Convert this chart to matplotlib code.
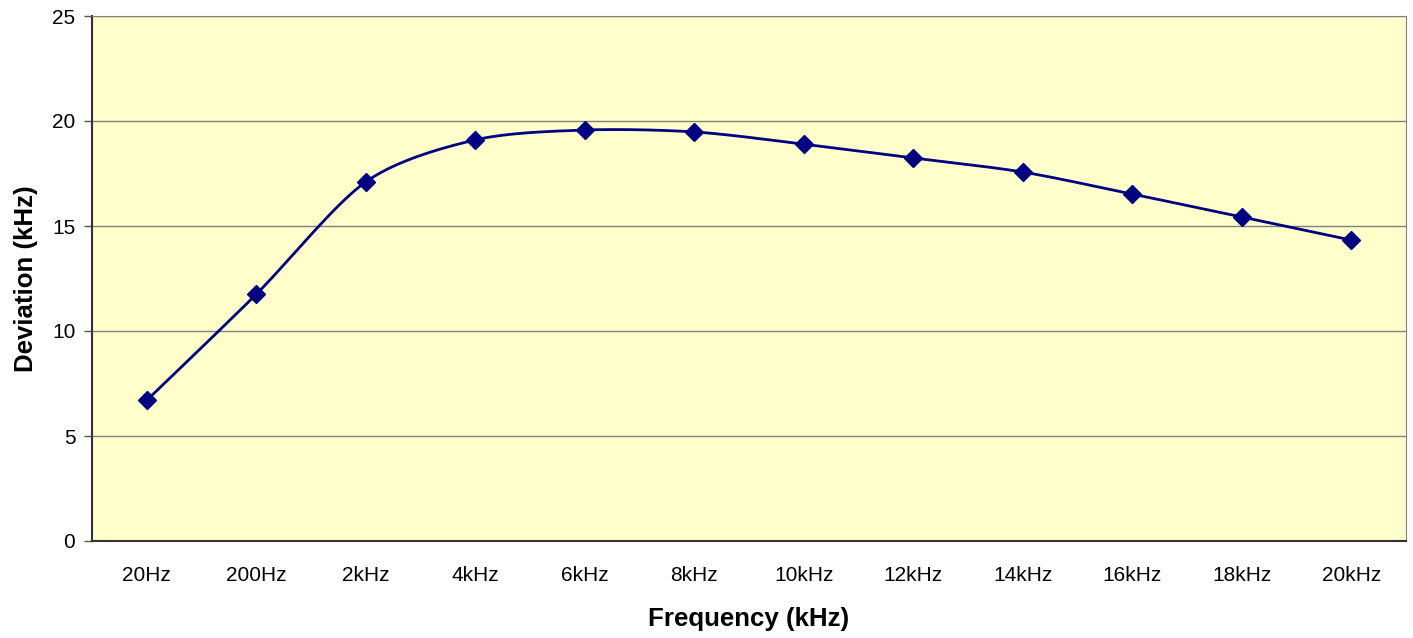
import numpy as np
import matplotlib
matplotlib.use("Agg")
import matplotlib.pyplot as plt

categories = ["20Hz", "200Hz", "2kHz", "4kHz", "6kHz", "8kHz",
              "10kHz", "12kHz", "14kHz", "16kHz", "18kHz", "20kHz"]
deviation = [6.7, 11.75, 17.1, 19.1, 19.57, 19.48,
             18.9, 18.24, 17.57, 16.52, 15.43, 14.33]

plt.rcParams['font.family'] = ['Liberation Sans', 'DejaVu Sans']


def smooth(x, y, n=20, k=7.0):
    # catmull-rom style smoothing, similar to excel's "smoothed line"
    x = np.asarray(x, float)
    y = np.asarray(y, float)
    px = np.concatenate([[x[0]], x, [x[-1]]])
    py = np.concatenate([[y[0]], y, [y[-1]]])
    xs, ys = [], []
    t = np.linspace(0, 1, n)
    for i in range(1, len(px) - 2):
        p0, p1, p2, p3 = (np.array([px[j], py[j]]) for j in range(i - 1, i + 3))
        c1 = p1 + (p2 - p0) / k
        c2 = p2 - (p3 - p1) / k
        pts = ((1 - t)**3)[:, None] * p1 + (3 * (1 - t)**2 * t)[:, None] * c1 \
            + (3 * (1 - t) * t**2)[:, None] * c2 + (t**3)[:, None] * p2
        xs.extend(pts[:, 0])
        ys.extend(pts[:, 1])
    return xs, ys


fig = plt.figure(figsize=(14.13, 6.38), dpi=100)
ax = fig.add_axes([92 / 1413, 97 / 638, 1314 / 1413, 525 / 638])
ax.set_facecolor('#FFFFCC')

xpos = np.arange(len(categories))
sx, sy = smooth(xpos, deviation)
ax.plot(sx, sy, color='#000080', lw=2, zorder=3)
ax.plot(xpos, deviation, ls='none', marker='D', ms=9.5, color='#000080', zorder=4)

ax.set_xlim(-0.5, len(categories) - 0.5)
ax.set_ylim(0, 25)
ax.set_yticks(range(0, 26, 5))
ax.set_xticks(xpos)
ax.set_xticklabels(categories)
ax.yaxis.grid(True, color='#808080', lw=1)
ax.set_axisbelow(True)

ax.tick_params(axis='x', length=0, pad=18, labelsize=15)
ax.tick_params(axis='y', length=6, width=1, color='#555555', pad=6, labelsize=15)

for side in ['top', 'right']:
    ax.spines[side].set_color('#808080')
for side in ['left', 'bottom']:
    ax.spines[side].set_color('#333333')
    ax.spines[side].set_linewidth(1.5)

ax.set_xlabel('Frequency (kHz)', fontsize=18.6, fontweight='bold', labelpad=16)
ax.set_ylabel('Deviation (kHz)', fontsize=18.6, fontweight='bold', labelpad=10)

fig.savefig('out.png', dpi=100)
